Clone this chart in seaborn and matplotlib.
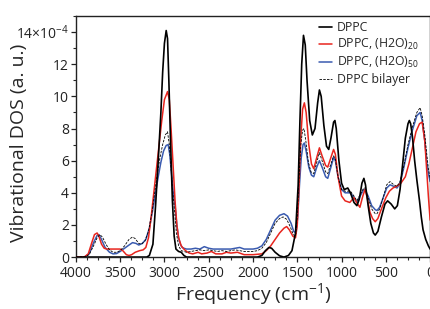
import matplotlib
matplotlib.use("Agg")
import matplotlib.pyplot as plt
import seaborn as sns
from matplotlib.ticker import MultipleLocator

# values, y in units of 1e-4
dppc_freq = [4000, 3900, 3500, 3300, 3200, 3170, 3130, 3100, 3070, 3040, 3020, 3000, 2980,
             2965, 2950, 2930, 2910, 2890, 2870, 2840, 2810, 2780, 2750, 1950, 1900, 1860,
             1820, 1790, 1750, 1700, 1650, 1600, 1560, 1520, 1490, 1470, 1450, 1430, 1410,
             1390, 1360, 1330, 1300, 1270, 1250, 1230, 1200, 1170, 1145, 1120, 1090, 1075,
             1060, 1030, 1000, 970, 930, 900, 860, 827, 800, 770, 748, 730, 700, 670, 640,
             620, 590, 550, 510, 480, 440, 400, 370, 340, 310, 280, 250, 235, 220, 200, 175,
             150, 120, 100, 80, 50, 20, 0]
dppc_dos = [0, 0, 0, 0, 0, 0.1, 0.8, 3.2, 6.0, 9.0, 11.5, 13.3, 14.1,
            13.6, 11.0, 7.0, 3.5, 1.3, 0.5, 0.35, 0.3, 0.1, 0, 0, 0.1, 0.4,
            0.6, 0.55, 0.3, 0.08, 0, 0.1, 0.4, 1.5, 4.5, 8.5, 12.0, 13.8, 13.2,
            11.0, 8.5, 7.6, 8.0, 9.6, 10.4, 10.0, 8.2, 6.9, 6.7, 7.4, 8.4, 8.5,
            8.0, 6.0, 4.6, 4.2, 4.3, 4.0, 3.4, 3.2, 3.6, 4.6, 4.9, 4.5, 3.2, 2.1, 1.5,
            1.37, 1.6, 2.5, 3.3, 3.5, 3.3, 3.0, 3.2, 4.2, 5.8, 7.4, 8.3, 8.5, 8.3, 7.5, 6.0,
            4.8, 3.5, 2.5, 1.7, 1.1, 0.7, 0.5]

w20_freq = [4000, 3900, 3860, 3820, 3790, 3760, 3740, 3710, 3680, 3650, 3600, 3550, 3500,
            3470, 3430, 3400, 3370, 3330, 3280, 3240, 3210, 3180, 3150, 3120, 3090, 3060,
            3030, 3000, 2965, 2945, 2925, 2900, 2880, 2860, 2840, 2810, 2780, 2750, 2720,
            2680, 2620, 2580, 2520, 2470, 2420, 2350, 2300, 2250, 2175, 2100, 2000, 1900,
            1850, 1800, 1750, 1700, 1650, 1620, 1590, 1550, 1520, 1500, 1480, 1460, 1440,
            1420, 1400, 1370, 1340, 1314, 1280, 1250, 1220, 1180, 1156, 1120, 1090, 1070,
            1040, 1000, 960, 907, 860, 830, 793, 760, 736, 710, 680, 650, 620, 590, 550,
            500, 460, 420, 380, 330, 280, 240, 200, 160, 120, 90, 60, 40, 20, 0]
w20_dos = [0, 0.02, 0.2, 0.9, 1.4, 1.5, 1.3, 0.8, 0.55, 0.5, 0.5, 0.5, 0.5,
           0.4, 0.15, 0.1, 0.15, 0.3, 0.4, 0.45, 0.6, 1.2, 2.5, 4.0, 5.5, 7.0,
           8.5, 9.8, 10.3, 9.8, 8.0, 5.5, 3.5, 2.0, 1.2, 0.7, 0.5, 0.35, 0.25,
           0.2, 0.3, 0.2, 0.25, 0.35, 0.2, 0.2, 0.3, 0.25, 0.3, 0.15, 0.15, 0.2,
           0.4, 0.7, 1.1, 1.5, 1.8, 1.9, 1.7, 1.3, 1.2, 2.0, 4.5, 7.5, 9.2,
           9.6, 9.0, 7.0, 5.8, 5.5, 6.2, 6.8, 6.3, 5.7, 5.6, 6.2, 6.7, 6.4,
           5.0, 3.8, 3.5, 3.4, 3.7, 3.4, 3.1, 3.8, 4.2, 3.7, 2.8, 2.4, 2.2, 2.4, 3.0,
           3.7, 4.1, 4.3, 4.4, 4.6, 5.0, 5.8, 6.8, 7.8, 8.3, 8.4, 7.2, 5.5, 3.8, 2.3]

w50_freq = [4000, 3900, 3850, 3800, 3760, 3740, 3710, 3670, 3620, 3580, 3540, 3500, 3450,
            3400, 3360, 3320, 3290, 3250, 3210, 3170, 3130, 3100, 3070, 3040, 3010, 2980,
            2958, 2940, 2920, 2900, 2880, 2860, 2840, 2820, 2800, 2780, 2750, 2700, 2650,
            2600, 2550, 2500, 2450, 2400, 2350, 2300, 2250, 2200, 2150, 2100, 2000, 1950,
            1900, 1850, 1800, 1750, 1700, 1650, 1610, 1570, 1540, 1515, 1495, 1475, 1455,
            1435, 1420, 1400, 1370, 1340, 1314, 1280, 1250, 1220, 1180, 1156, 1120, 1090,
            1070, 1040, 1000, 960, 900, 860, 827, 790, 750, 736, 700, 660, 620, 600, 570,
            530, 490, 453, 410, 374, 340, 300, 250, 200, 150, 113, 90, 60, 40, 20, 0]
w50_dos = [0, 0.02, 0.2, 0.9, 1.35, 1.4, 1.1, 0.6, 0.3, 0.2, 0.22, 0.35, 0.55,
           0.75, 0.9, 0.85, 0.75, 0.85, 1.1, 1.8, 3.0, 4.0, 5.0, 5.9, 6.6, 6.95,
           7.0, 6.4, 5.2, 4.0, 3.2, 2.0, 1.2, 0.8, 0.6, 0.55, 0.5, 0.5, 0.55,
           0.5, 0.65, 0.55, 0.5, 0.5, 0.5, 0.5, 0.5, 0.55, 0.6, 0.5, 0.5, 0.55,
           0.7, 1.1, 1.7, 2.3, 2.6, 2.7, 2.55, 2.1, 1.6, 1.5, 2.5, 4.5, 6.2,
           7.0, 7.1, 6.6, 5.6, 5.1, 5.0, 5.6, 6.0, 5.6, 5.0, 4.9, 5.6, 6.2,
           6.0, 5.0, 4.2, 4.0, 4.0, 3.7, 3.4, 3.8, 4.2, 4.2, 3.8, 3.2, 2.95, 2.9, 3.1,
           3.7, 4.3, 4.5, 4.4, 4.3, 4.6, 5.5, 6.8, 7.9, 8.8, 9.0, 8.5, 7.2, 6.0, 5.2, 4.7]

bil_freq = [4000, 3900, 3850, 3800, 3760, 3730, 3700, 3660, 3620, 3580, 3540, 3500, 3450,
            3400, 3360, 3330, 3290, 3260, 3220, 3180, 3140, 3110, 3080, 3050, 3020, 2990,
            2965, 2945, 2925, 2905, 2885, 2865, 2840, 2810, 2780, 2750, 2700, 2650, 2600,
            2550, 2500, 2450, 2400, 2350, 2300, 2250, 2200, 2150, 2100, 2000, 1950, 1900,
            1850, 1800, 1750, 1700, 1660, 1620, 1580, 1545, 1520, 1500, 1480, 1460, 1440,
            1425, 1405, 1375, 1345, 1314, 1280, 1250, 1220, 1180, 1156, 1120, 1090, 1070,
            1040, 1000, 960, 900, 860, 827, 790, 750, 736, 700, 660, 620, 600, 570, 530,
            490, 453, 410, 374, 340, 300, 250, 200, 150, 113, 90, 60, 40, 20, 0]
bil_dos = [0, 0.02, 0.15, 0.7, 1.2, 1.4, 1.25, 0.8, 0.45, 0.3, 0.3, 0.4, 0.7,
           1.1, 1.25, 1.15, 0.85, 0.8, 1.0, 1.6, 2.8, 4.0, 5.2, 6.2, 7.0, 7.6,
           7.8, 7.0, 5.5, 4.0, 2.8, 1.5, 0.7, 0.4, 0.35, 0.3, 0.35, 0.4, 0.45,
           0.4, 0.45, 0.4, 0.35, 0.4, 0.35, 0.4, 0.45, 0.4, 0.35, 0.35, 0.4, 0.55,
           0.9, 1.5, 2.1, 2.4, 2.5, 2.35, 1.9, 1.4, 1.3, 2.5, 5.0, 7.0, 7.9,
           8.0, 7.3, 5.9, 5.3, 5.2, 5.9, 6.5, 6.0, 5.3, 5.2, 5.8, 6.3, 6.1,
           5.0, 4.2, 4.1, 4.1, 3.8, 3.5, 3.9, 4.3, 4.3, 3.7, 3.0, 2.7, 2.7, 3.0, 3.7,
           4.5, 4.7, 4.5, 4.4, 4.7, 5.6, 7.0, 8.1, 9.0, 9.3, 8.8, 7.6, 6.5, 5.5, 4.9]

y_ticks = [0, 2, 4, 6, 8, 10, 12, 14]
y_tick_labels = ["0", "2", "4", "6", "8", "10", "12", "14\u00d710$^{-4}$"]
x_ticks = [4000, 3500, 3000, 2500, 2000, 1500, 1000, 500, 0]

sns.set_style("ticks")
plt.rcParams["font.family"] = ["Open Sans", "DejaVu Sans"]
plt.rcParams["mathtext.fontset"] = "custom"
plt.rcParams["mathtext.rm"] = "Open Sans"

fig = plt.figure(figsize=(4.31, 3.09), dpi=100)
ax = fig.add_axes([0.176, 0.168, 0.822, 0.78])

sns.lineplot(x=dppc_freq, y=dppc_dos, ax=ax, color="black", lw=1.2,
             label="DPPC", estimator=None, sort=False, zorder=4)
sns.lineplot(x=w20_freq, y=w20_dos, ax=ax, color="#e8251e", lw=1.1,
             label="DPPC, (H2O)$_{20}$", estimator=None, sort=False, zorder=3)
sns.lineplot(x=w50_freq, y=w50_dos, ax=ax, color="#3a5bb0", lw=1.1,
             label="DPPC, (H2O)$_{50}$", estimator=None, sort=False, zorder=2)
sns.lineplot(x=bil_freq, y=bil_dos, ax=ax, color="black", lw=0.6, linestyle=(0, (3, 1.5)),
             label="DPPC bilayer", estimator=None, sort=False, zorder=5)

ax.set_xlim(4000, 0)
ax.set_ylim(0, 15)
ax.set_xticks(x_ticks)
ax.set_yticks(y_ticks)
ax.set_yticklabels(y_tick_labels)
ax.xaxis.set_minor_locator(MultipleLocator(125))
ax.yaxis.set_minor_locator(MultipleLocator(1))
ax.tick_params(axis="both", which="major", direction="out", length=3.5, width=0.9,
               labelsize=10, pad=1.5, colors="#222222")
ax.tick_params(axis="x", which="major", pad=3)
ax.tick_params(axis="both", which="minor", direction="out", length=2, width=0.8)
for s in ax.spines.values():
    s.set_linewidth(1.0)
    s.set_color("#222222")

ax.set_xlabel("Frequency (cm$^{-1}$)", fontsize=14, labelpad=0)
ax.set_ylabel("Vibrational DOS (a. u.)", fontsize=14)
ax.yaxis.set_label_coords(-0.135, 0.473)

ax.legend(loc="upper left", bbox_to_anchor=(0.665, 1.01), frameon=False, fontsize=8.8,
          handlelength=1.1, handletextpad=0.4, labelspacing=0.25, borderaxespad=0.2)

fig.savefig("out.png", dpi=100)
